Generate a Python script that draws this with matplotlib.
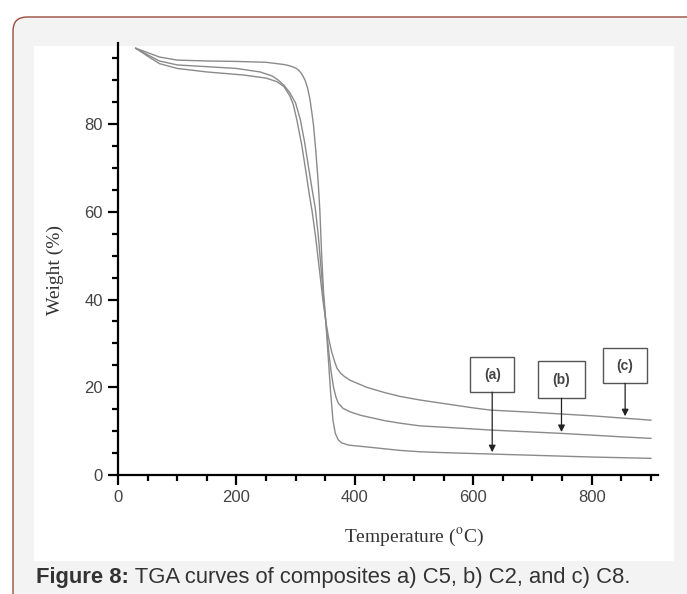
import matplotlib
matplotlib.use('Agg')
import matplotlib.pyplot as plt
import matplotlib.ticker as ticker
from matplotlib.patches import FancyBboxPatch, Rectangle
from matplotlib.transforms import IdentityTransform

plt.rcParams['mathtext.fontset'] = 'stix'

# ── Data ───────────────────────────────────────────────────────────────────────
temp_a = [30, 50, 70, 100, 150, 200, 250, 280, 290, 300, 306, 311, 316, 320, 324, 327,
          330, 334, 338, 341, 344, 347, 351, 355, 359, 363, 367, 372, 378, 390, 420,
          477, 510, 550, 600, 650, 700, 750, 800, 850, 900]
weight_a = [97.3, 96.3, 95.3, 94.6, 94.4, 94.3, 94.1, 93.6, 93.3, 92.8, 92.2, 91.3,
            90.0, 88.3, 85.8, 83.0, 80.0, 74.0, 67.0, 60.0, 50.0, 42.0, 35.0, 27.0,
            19.0, 12.5, 9.5, 8.0, 7.3, 6.8, 6.4, 5.6, 5.3, 5.1, 4.9, 4.7, 4.5, 4.3,
            4.1, 3.95, 3.8]

temp_b = [30, 50, 70, 100, 150, 200, 240, 260, 270, 280, 290, 300, 308, 315, 322, 328,
          333, 338, 343, 348, 352, 356, 360, 364, 368, 372, 380, 392, 410, 450, 477,
          510, 550, 600, 629, 700, 747, 800, 850, 900]
weight_b = [97.3, 95.8, 94.4, 93.5, 93.1, 92.7, 91.9, 91.0, 90.1, 88.9, 87.2, 84.8,
            81.0, 76.0, 70.0, 65.0, 61.0, 55.0, 47.0, 39.0, 33.5, 28.0, 23.5, 20.0,
            17.8, 16.4, 15.2, 14.4, 13.6, 12.4, 11.8, 11.2, 10.9, 10.5, 10.25, 9.8,
            9.5, 9.1, 8.7, 8.35]

temp_c = [30, 50, 70, 100, 150, 212, 250, 268, 280, 290, 296, 302, 310, 317, 323, 328,
          334, 340, 346, 351, 356, 361, 366, 370, 376, 382, 392, 420, 450, 477, 510,
          550, 600, 629, 700, 750, 800, 850, 900]
weight_c = [97.3, 95.5, 93.8, 92.7, 91.9, 91.2, 90.5, 89.7, 88.6, 86.5, 84.5, 81.0,
            75.5, 69.5, 64.0, 60.0, 54.0, 47.0, 40.0, 35.0, 31.0, 28.0, 25.8, 24.3,
            23.2, 22.5, 21.6, 20.0, 18.8, 17.9, 17.1, 16.3, 15.3, 14.8, 14.3, 13.9,
            13.5, 13.0, 12.5]

LABELS = ['(a)', '(b)', '(c)']
# label box extents (T0, T1, W0, W1) and arrow tip weight
BOXES = [(595, 669, 18.9, 26.9), (710, 788, 17.5, 26.0), (819, 894, 20.9, 28.9)]
ARROW_TIPS = [5.2, 9.8, 13.4]

CAPTION_BOLD = 'Figure 8:'
CAPTION_TEXT = ' TGA curves of composites a) C5, b) C2, and c) C8.'

# ── Figure with the page-style panel ───────────────────────────────────────────
W_PX, H_PX = 687, 594
fig = plt.figure(figsize=(W_PX / 100, H_PX / 100), dpi=100)
fig.patch.set_facecolor('white')

panel = FancyBboxPatch((13, -30), 720, H_PX - 17 + 30,
                       boxstyle='round,pad=0,rounding_size=14',
                       transform=IdentityTransform(), facecolor='#f3f3f3',
                       edgecolor='#9a4b3c', linewidth=1.0, zorder=-3)
fig.patches.append(panel)
inner = Rectangle((34, H_PX - 561), 640, 561 - 46, transform=IdentityTransform(),
                  facecolor='white', edgecolor='none', zorder=-2)
fig.patches.append(inner)

ax = fig.add_axes([118 / W_PX, 1 - 475 / H_PX, 540 / W_PX, 432 / H_PX])
ax.set_facecolor('none')

for t, w in [(temp_a, weight_a), (temp_b, weight_b), (temp_c, weight_c)]:
    ax.plot(t, w, color='#8a8a8a', linewidth=1.0)

# label boxes + arrows
for lab, (t0, t1, w0, w1), tip in zip(LABELS, BOXES, ARROW_TIPS):
    ax.add_patch(Rectangle((t0, w0), t1 - t0, w1 - w0, facecolor='white',
                           edgecolor='#555555', linewidth=1.0, zorder=3))
    xc = (t0 + t1) / 2
    ax.text(xc, (w0 + w1) / 2, lab, ha='center', va='center', fontsize=10,
            fontweight='bold', color='#444444', family='Liberation Sans', zorder=4)
    ax.annotate('', xy=(xc, tip), xytext=(xc, w0),
                arrowprops=dict(arrowstyle='-|>', color='#222222', lw=0.9,
                                mutation_scale=10, shrinkA=0, shrinkB=0))

ax.set_xlim(0, 912)
ax.set_ylim(0, 98.5)
ax.xaxis.set_major_locator(ticker.MultipleLocator(200))
ax.xaxis.set_minor_locator(ticker.MultipleLocator(50))
ax.yaxis.set_major_locator(ticker.MultipleLocator(20))
ax.yaxis.set_minor_locator(ticker.MultipleLocator(5))

for side in ['top', 'right']:
    ax.spines[side].set_visible(False)
for side in ['left', 'bottom']:
    ax.spines[side].set_linewidth(1.6)

ax.tick_params(which='major', direction='out', length=7, width=1.6,
               labelsize=12, labelcolor='#444444', pad=4)
ax.tick_params(which='minor', direction='out', length=4, width=1.6)
for lbl in ax.get_xticklabels() + ax.get_yticklabels():
    lbl.set_family('Liberation Sans')

ax.set_ylabel('Weight (%)', fontsize=14, family='Liberation Serif', color='#333333')
ax.set_xlabel(r'Temperature ($^{\mathrm{o}}$C)', fontsize=14, family='Liberation Serif',
              color='#333333')
ax.yaxis.set_label_coords(-0.1, 0.475)
ax.xaxis.set_label_coords(0.548, -0.12)

# caption
cap = fig.text(36 / W_PX, 1 - 577 / H_PX, CAPTION_BOLD, fontsize=15.8, fontweight='bold',
               family='Liberation Sans', color='#333333', va='center')
fig.canvas.draw()
bb = cap.get_window_extent()
fig.text(bb.x1 / W_PX, 1 - 577 / H_PX, CAPTION_TEXT, fontsize=15.8,
         family='Liberation Sans', color='#333333', va='center')

fig.savefig('out.png', dpi=100)
